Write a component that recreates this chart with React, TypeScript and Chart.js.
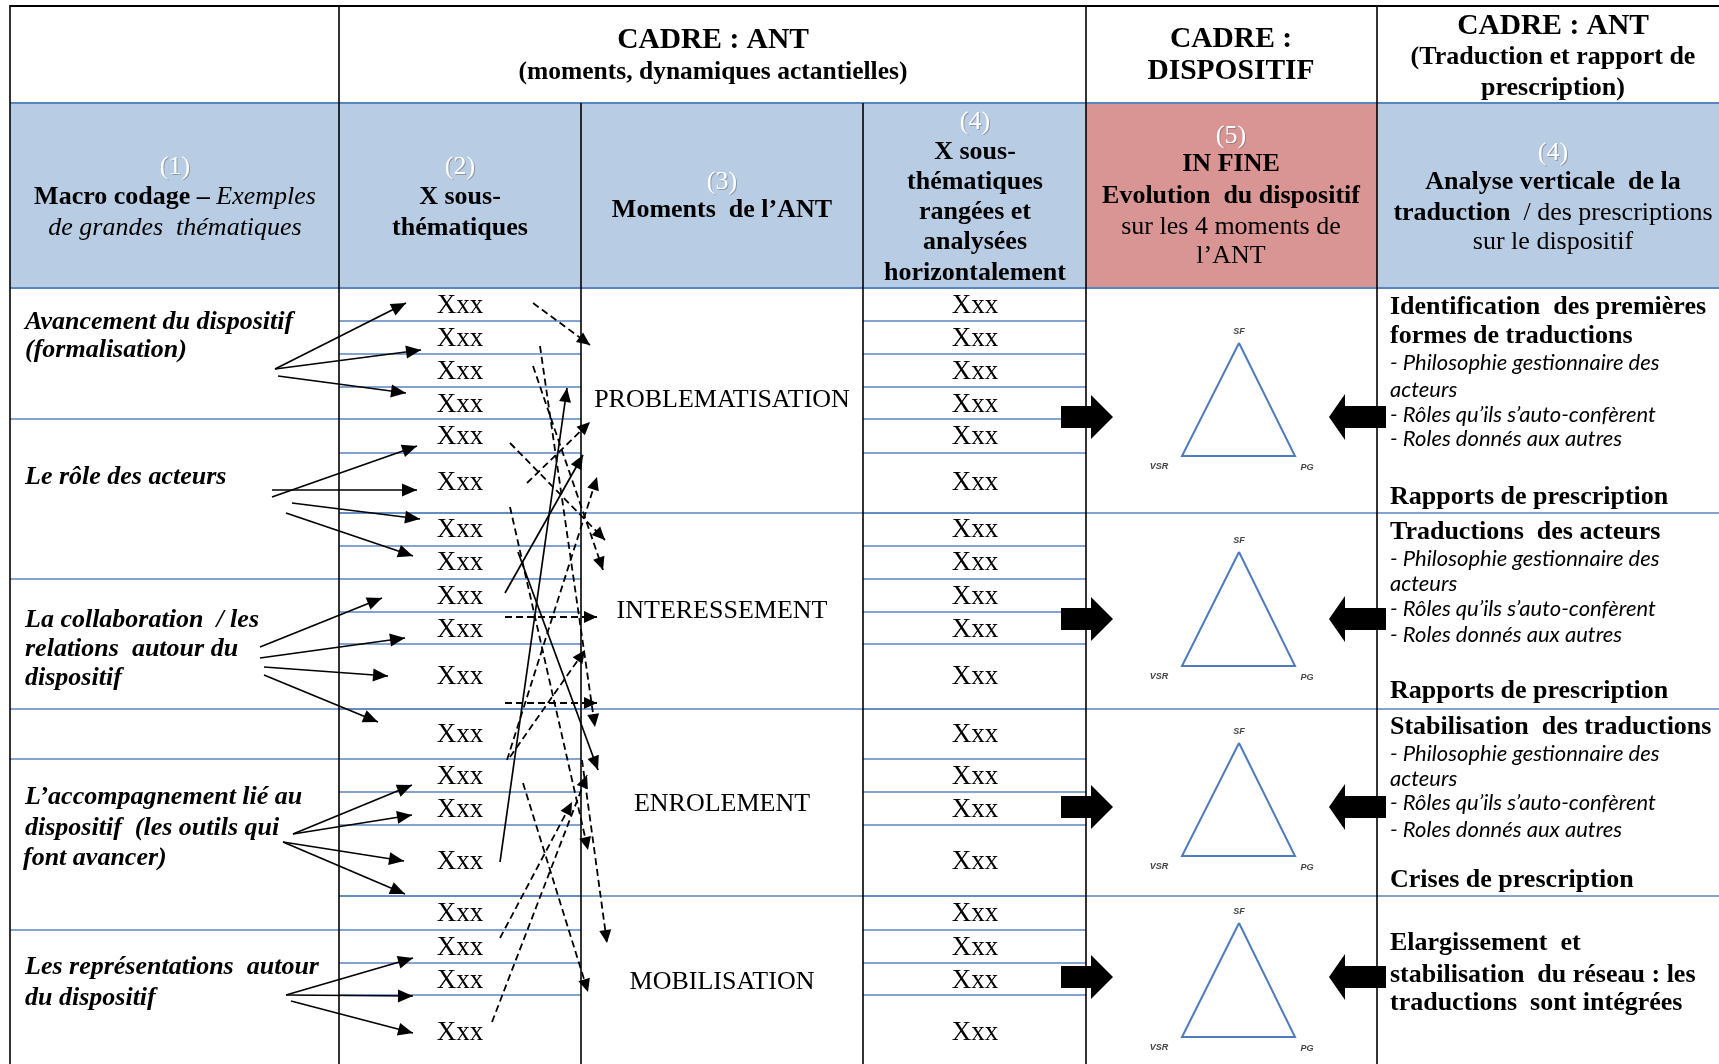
import React, { useEffect, useRef } from "react";
import { Chart, registerables } from "chart.js";

Chart.register(...registerables);

const W = 1719;
const H = 1064;
const SERIF = '"Liberation Serif", "Times New Roman", serif';
const SANS = 'Lato, "Liberation Sans", sans-serif';

// ---- table geometry (canvas units) ----
const colEdges = [10, 339, 581, 863, 1086, 1377, 1729];
const tableTop = 6;
const headerMid = 103;
const headerBottom = 288;
const momentEdges = [513, 709, 896];
const subLines = [321, 354, 387, 419, 453, 513, 546, 579, 612, 644, 709, 759, 792, 825, 896, 930, 963, 995];
const macroLines = [419, 579, 709, 759, 930];
const subLabelY = [306, 339, 372, 405, 437, 483, 530, 563, 597, 630, 677, 735, 777, 810, 862, 914, 948, 981, 1033];
const subLabelX = [460, 975];
const subLabel = "Xxx";

// ---- header texts ----
const topHeaderText: [string, number, number, number][] = [
  ["CADRE : ANT", 713, 40, 29.5],
  ["(moments, dynamiques actantielles)", 713, 72, 25.5],
  ["CADRE :", 1231, 39, 29.5],
  ["DISPOSITIF", 1231, 71, 29.5],
  ["CADRE : ANT", 1553, 26, 29.5],
  ["(Traduction et rapport de", 1553, 57, 26],
  ["prescription)", 1553, 88, 26],
];
const headerNumbers: [string, number, number][] = [
  ["(1)", 175, 167], ["(2)", 460, 167], ["(3)", 722, 182], ["(4)", 975, 122], ["(5)", 1231, 136], ["(4)", 1553, 153],
];
const headerLines: { x: number; y: number; segs: [string, string][] }[] = [
  { x: 175, y: 197, segs: [["Macro codage – ", "b"], ["Exemples", "i"]] },
  { x: 175, y: 228, segs: [["de grandes  thématiques", "i"]] },
  { x: 460, y: 197, segs: [["X sous-", "b"]] },
  { x: 460, y: 228, segs: [["thématiques", "b"]] },
  { x: 722, y: 210, segs: [["Moments  de l’ANT", "b"]] },
  { x: 975, y: 152, segs: [["X sous-", "b"]] },
  { x: 975, y: 182, segs: [["thématiques", "b"]] },
  { x: 975, y: 212, segs: [["rangées et", "b"]] },
  { x: 975, y: 242, segs: [["analysées", "b"]] },
  { x: 975, y: 273, segs: [["horizontalement", "b"]] },
  { x: 1231, y: 164, segs: [["IN FINE", "b"]] },
  { x: 1231, y: 196, segs: [["Evolution  du dispositif", "b"]] },
  { x: 1231, y: 227, segs: [["sur les 4 moments de", "n"]] },
  { x: 1231, y: 256, segs: [["l’ANT", "n"]] },
  { x: 1553, y: 182, segs: [["Analyse verticale  de la", "b"]] },
  { x: 1553, y: 213, segs: [["traduction", "b"], ["  / des prescriptions", "n"]] },
  { x: 1553, y: 242, segs: [["sur le dispositif", "n"]] },
];

// ---- body texts ----
const macroThemes: [string, number, number][] = [
  ["Avancement du dispositif", 25, 322],
  ["(formalisation)", 25, 350],
  ["Le rôle des acteurs", 25, 477],
  ["La collaboration  / les", 25, 620],
  ["relations  autour du", 25, 649],
  ["dispositif", 25, 678],
  ["L’accompagnement lié au", 25, 797],
  ["dispositif  (les outils qui", 25, 828],
  ["font avancer)", 23, 858],
  ["Les représentations  autour", 25, 967],
  ["du dispositif", 25, 998],
];
const moments: [string, number][] = [
  ["PROBLEMATISATION", 400],
  ["INTERESSEMENT", 611],
  ["ENROLEMENT", 804],
  ["MOBILISATION", 982],
];
const momentX = 722;
const analysisText: [string, string, number][] = [
  ["Identification  des premières", "b", 307],
  ["formes de traductions", "b", 336],
  ["- Philosophie gestionnaire des", "i", 363],
  ["acteurs", "i", 390],
  ["- Rôles qu’ils s’auto-confèrent", "i", 415],
  ["- Roles donnés aux autres", "i", 439],
  ["Rapports de prescription", "b", 497],
  ["Traductions  des acteurs", "b", 532],
  ["- Philosophie gestionnaire des", "i", 559],
  ["acteurs", "i", 584],
  ["- Rôles qu’ils s’auto-confèrent", "i", 609],
  ["- Roles donnés aux autres", "i", 635],
  ["Rapports de prescription", "b", 691],
  ["Stabilisation  des traductions", "b", 727],
  ["- Philosophie gestionnaire des", "i", 754],
  ["acteurs", "i", 779],
  ["- Rôles qu’ils s’auto-confèrent", "i", 803],
  ["- Roles donnés aux autres", "i", 830],
  ["Crises de prescription", "b", 880],
  ["Elargissement  et", "b", 943],
  ["stabilisation  du réseau : les", "b", 975],
  ["traductions  sont intégrées", "b", 1003],
];
const analysisX = 1390;

// ---- triangles (SF apex, VSR left, PG right) ----
const triangleX = [1182, 1239, 1295];
const triangleApexY = [343, 552, 743, 923];
const triangleBaseY = [456, 666, 856, 1037];
const blockArrowY = [417, 619, 807, 977];

// ---- arrows: [x1, y1, x2, y2] ----
const macroArrows: [number, number, number, number][] = [
  [275, 369, 406, 303], [275, 369, 421, 350], [278, 376, 406, 393],
  [272, 497, 417, 446], [272, 490, 417, 490], [292, 503, 420, 519], [286, 513, 413, 556],
  [260, 647, 382, 598], [260, 658, 405, 638], [264, 667, 388, 676], [264, 675, 378, 722],
  [293, 834, 412, 785], [293, 834, 412, 815], [283, 842, 404, 861], [283, 842, 405, 894],
  [286, 995, 413, 958], [286, 995, 413, 996], [291, 1001, 413, 1033],
];
const solidLinks: [number, number, number, number][] = [
  [500, 862, 567, 388],
  [505, 593, 583, 455],
  [518, 552, 598, 770],
];
const dashedLinks: [number, number, number, number][] = [
  [533, 303, 590, 345],
  [540, 346, 595, 727],
  [533, 366, 603, 570],
  [527, 483, 590, 422],
  [510, 443, 605, 540],
  [507, 760, 597, 477],
  [505, 617, 597, 617],
  [505, 703, 597, 703],
  [510, 507, 588, 850],
  [510, 757, 585, 650],
  [500, 938, 572, 802],
  [492, 1022, 587, 775],
  [523, 783, 588, 992],
  [582, 760, 607, 943],
];

const BLUE_FILL = "#b8cce4";
const RED_FILL = "#d99594";
const GRID_BLUE = "#5a86c0";
const TRI_BLUE = "#4f7bbd";

function font(style: string, size: number, fam = SERIF) {
  const s = style === "b" ? "bold" : style === "i" ? "italic" : style === "bi" ? "italic bold" : "normal";
  return `${s} ${size}px ${fam}`;
}

function drawRich(ctx: CanvasRenderingContext2D, segs: [string, string][], x: number, y: number, size: number, align: "center" | "left", color = "#000") {
  let total = 0;
  const widths = segs.map(([t, s]) => {
    ctx.font = font(s, size);
    const w = ctx.measureText(t).width;
    total += w;
    return w;
  });
  let cx = align === "center" ? x - total / 2 : x;
  ctx.textAlign = "left";
  ctx.textBaseline = "middle";
  ctx.fillStyle = color;
  segs.forEach(([t, s], i) => {
    ctx.font = font(s, size);
    ctx.fillText(t, cx, y);
    cx += widths[i];
  });
}

const tablePlugin = {
  id: "tablePlugin",
  beforeDatasetsDraw(chart: any) {
    const ctx: CanvasRenderingContext2D = chart.ctx;
    const X = (v: number) => chart.scales.x.getPixelForValue(v);
    const Y = (v: number) => chart.scales.y.getPixelForValue(v);
    ctx.save();
    ctx.fillStyle = BLUE_FILL;
    ctx.fillRect(X(colEdges[0]), Y(headerMid), X(colEdges[6]) - X(colEdges[0]), Y(headerBottom) - Y(headerMid));
    ctx.fillStyle = RED_FILL;
    ctx.fillRect(X(colEdges[4]), Y(headerMid), X(colEdges[5]) - X(colEdges[4]), Y(headerBottom) - Y(headerMid));

    const hline = (x1: number, x2: number, y: number, color: string, w: number) => {
      ctx.strokeStyle = color;
      ctx.lineWidth = w;
      ctx.beginPath();
      ctx.moveTo(X(x1), Y(y));
      ctx.lineTo(X(x2), Y(y));
      ctx.stroke();
    };
    const vline = (x: number, y1: number, y2: number) => {
      ctx.strokeStyle = "#000";
      ctx.lineWidth = 1.6;
      ctx.beginPath();
      ctx.moveTo(X(x), Y(y1));
      ctx.lineTo(X(x), Y(y2));
      ctx.stroke();
    };
    subLines.forEach((y) => {
      hline(colEdges[1], colEdges[2], y, GRID_BLUE, 1.6);
      hline(colEdges[3], colEdges[4], y, GRID_BLUE, 1.6);
    });
    macroLines.forEach((y) => hline(colEdges[0], colEdges[1], y, GRID_BLUE, 1.6));
    momentEdges.forEach((y) => hline(colEdges[1], colEdges[6], y, GRID_BLUE, 1.6));
    hline(colEdges[0], colEdges[6], headerMid, GRID_BLUE, 1.8);
    hline(colEdges[0], colEdges[6], headerBottom, GRID_BLUE, 1.8);
    hline(colEdges[0], colEdges[6], tableTop, "#000", 2);
    vline(colEdges[0], tableTop - 1, H);
    vline(colEdges[1], tableTop, H);
    vline(colEdges[2], headerMid, H);
    vline(colEdges[3], headerMid, H);
    vline(colEdges[4], tableTop, H);
    vline(colEdges[5], tableTop, H);

    topHeaderText.forEach(([t, x, y, s]) => drawRich(ctx, [[t, "b"]], X(x), Y(y), s, "center"));
    headerNumbers.forEach(([t, x, y]) => {
      drawRich(ctx, [[t, "n"]], X(x) + 1, Y(y) + 1, 26, "center", "rgba(110,110,110,0.55)");
      drawRich(ctx, [[t, "n"]], X(x), Y(y), 26, "center", "#ffffff");
    });
    headerLines.forEach((l) => drawRich(ctx, l.segs, X(l.x), Y(l.y), 26, "center"));

    macroThemes.forEach(([t, x, y]) => drawRich(ctx, [[t, "bi"]], X(x), Y(y), 26, "left"));
    subLabelX.forEach((x) => subLabelY.forEach((y) => drawRich(ctx, [[subLabel, "n"]], X(x), Y(y), 27, "center")));
    moments.forEach(([t, y]) => drawRich(ctx, [[t, "n"]], X(momentX), Y(y), 26, "center"));
    analysisText.forEach(([t, s, y]) => {
      if (s === "b") {
        drawRich(ctx, [[t, "b"]], X(analysisX), Y(y), 26, "left");
      } else {
        ctx.font = `italic 22px ${SANS}`;
        ctx.fillStyle = "#000";
        ctx.textAlign = "left";
        ctx.textBaseline = "middle";
        ctx.fillText(t, X(analysisX), Y(y));
      }
    });

    ctx.font = `italic bold 9px "Liberation Sans", sans-serif`;
    ctx.fillStyle = "#444";
    ctx.textAlign = "center";
    ctx.textBaseline = "middle";
    triangleApexY.forEach((ay, i) => {
      const by = triangleBaseY[i];
      ctx.fillText("SF", X(triangleX[1]), Y(ay - 11));
      ctx.fillText("VSR", X(triangleX[0] - 23), Y(by + 11));
      ctx.fillText("PG", X(triangleX[2] + 12), Y(by + 12));
    });

    ctx.fillStyle = "#000";
    blockArrowY.forEach((c) => {
      const pr: [number, number][] = [
        [1061, c - 11], [1091, c - 11], [1091, c - 22], [1113, c], [1091, c + 22], [1091, c + 11], [1061, c + 11],
      ];
      const pl: [number, number][] = [
        [1386, c - 11], [1345, c - 11], [1345, c - 23], [1329, c], [1345, c + 23], [1345, c + 11], [1386, c + 11],
      ];
      [pr, pl].forEach((poly) => {
        ctx.beginPath();
        poly.forEach(([px, py], k) => (k ? ctx.lineTo(X(px), Y(py)) : ctx.moveTo(X(px), Y(py))));
        ctx.closePath();
        ctx.fill();
      });
    });
    ctx.restore();
  },
  afterDatasetsDraw(chart: any) {
    const ctx: CanvasRenderingContext2D = chart.ctx;
    ctx.save();
    chart.data.datasets.forEach((ds: any, i: number) => {
      if (!ds.headLen) return;
      const pts = chart.getDatasetMeta(i).data;
      const a = pts[pts.length - 2];
      const b = pts[pts.length - 1];
      const ang = Math.atan2(b.y - a.y, b.x - a.x);
      const L = ds.headLen;
      const hw = ds.headHalf;
      ctx.fillStyle = "#000";
      ctx.beginPath();
      ctx.moveTo(b.x, b.y);
      ctx.lineTo(b.x - L * Math.cos(ang) + hw * Math.sin(ang), b.y - L * Math.sin(ang) - hw * Math.cos(ang));
      ctx.lineTo(b.x - L * Math.cos(ang) - hw * Math.sin(ang), b.y - L * Math.sin(ang) + hw * Math.cos(ang));
      ctx.closePath();
      ctx.fill();
    });
    ctx.restore();
  },
};

function seg(a: [number, number, number, number], dashed: boolean, headLen: number, headHalf: number) {
  return {
    data: [{ x: a[0], y: a[1] }, { x: a[2], y: a[3] }],
    showLine: true,
    borderColor: "#000",
    borderWidth: dashed ? 1.8 : 1.7,
    borderDash: dashed ? [7, 4] : [],
    pointRadius: 0,
    fill: false,
    headLen,
    headHalf,
  };
}

export default function App() {
  const ref = useRef<HTMLCanvasElement>(null);
  useEffect(() => {
    document.body.style.margin = "0";
    const triangles = triangleApexY.map((ay, i) => ({
      data: [
        { x: triangleX[1], y: ay },
        { x: triangleX[2], y: triangleBaseY[i] },
        { x: triangleX[0], y: triangleBaseY[i] },
        { x: triangleX[1], y: ay },
      ],
      showLine: true,
      borderColor: TRI_BLUE,
      borderWidth: 2,
      pointRadius: 0,
      fill: false,
      headLen: 0,
      headHalf: 0,
    }));
    const datasets: any[] = [
      ...macroArrows.map((a) => seg(a, false, 15, 6.5)),
      ...solidLinks.map((a) => seg(a, false, 14, 6)),
      ...dashedLinks.map((a) => seg(a, true, 13, 6)),
      ...triangles,
    ];
    const chart = new Chart(ref.current!, {
      type: "scatter",
      data: { datasets },
      options: {
        animation: false,
        responsive: false,
        devicePixelRatio: 1,
        layout: { padding: 0 },
        plugins: { legend: { display: false }, tooltip: { enabled: false } },
        scales: {
          x: { type: "linear", min: 0, max: W, display: false },
          y: { type: "linear", min: 0, max: H, reverse: true, display: false },
        },
      } as any,
      plugins: [tablePlugin],
    });
    return () => chart.destroy();
  }, []);
  return (
    <div style={{ width: W, height: H, background: "#fff" }}>
      <canvas ref={ref} width={W} height={H} style={{ display: "block" }} />
    </div>
  );
}
